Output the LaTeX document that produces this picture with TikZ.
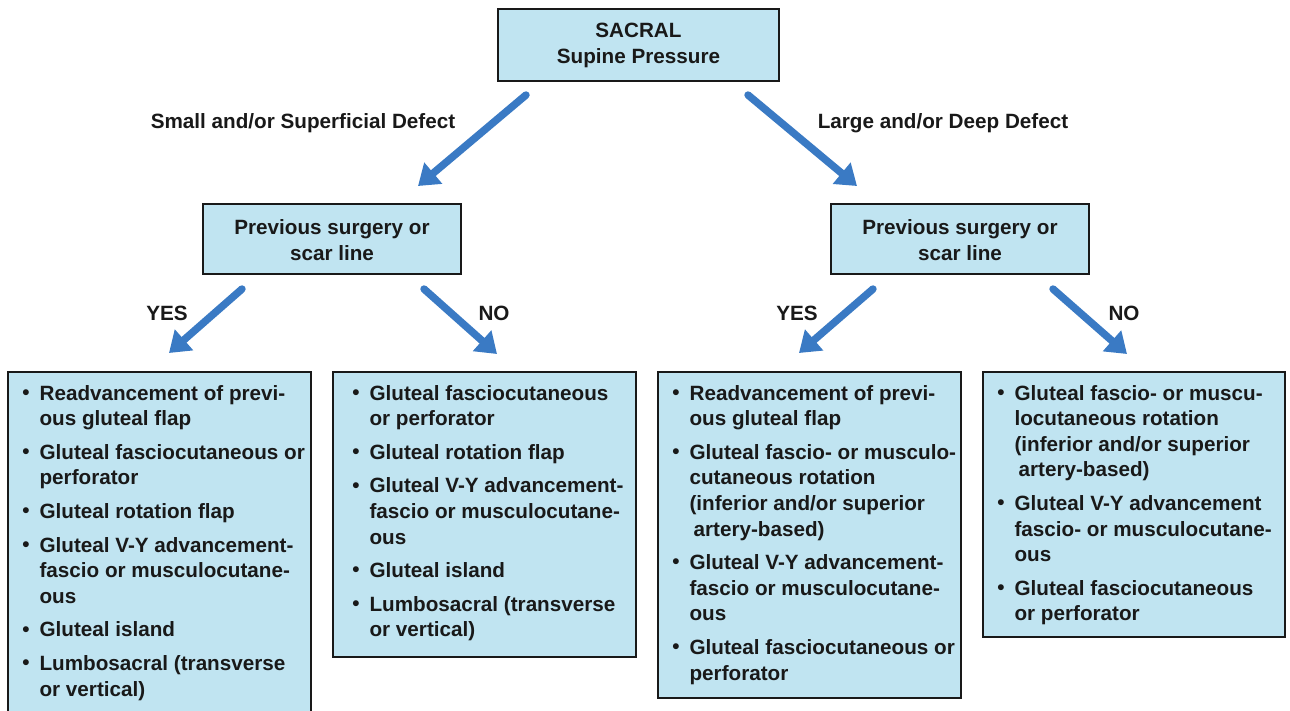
\documentclass[tikz,border=0pt]{standalone}
\usepackage{fontspec}
\setmainfont{Liberation Sans}
\usetikzlibrary{arrows.meta,fit,calc}
\definecolor{boxfill}{RGB}{192,228,241}
\definecolor{arrowblue}{RGB}{58,122,196}
\definecolor{inkc}{RGB}{25,25,25}
\newcommand\bitm[1]{\par\noindent\hangindent=13pt\hangafter=1\makebox[13pt][l]{\raisebox{0.5pt}{•}}#1\par}
\newcommand\blist[2]{\parbox[t]{#1}{\rightskip=0pt plus 1fil\parfillskip=0pt plus 1fil\setlength{\parskip}{6pt}\fontsize{15.5}{19.2}\selectfont #2}}
\begin{document}
\begin{tikzpicture}[x=0.75pt,y=-0.75pt,
  every node/.style={text=inkc,font=\bfseries\fontsize{15.5}{19.5}\selectfont},
  box/.style={draw=inkc,line width=1.1pt,fill=boxfill,inner sep=0pt,outer sep=0pt},
  bigarrow/.style={draw=arrowblue,line width=5.6pt,line cap=round,
    -{Triangle[length=15pt,width=20pt]}},
  lbl/.style={inner sep=0pt},
  ctext/.style={inner sep=0pt,align=center},
  txt/.style={anchor=base west,inner sep=0pt,align=left}]
\clip (0,0) rectangle (1290,711);
\fill[white] (0,0) rectangle (1290,711);
% top box
\node[box,fit={(498,9) (779,81)}] (top) {};
\node[ctext] (toptext) at ($(top.center)+(0,0.5)$) {SACRAL\\Supine Pressure};
% middle boxes
\node[box,fit={(203,204) (461,274)}] (ml) {};
\node[ctext] (mltext) at ($(ml.center)+(0,1)$) {Previous surgery or\\scar line};
\node[box,fit={(831,204) (1089,274)}] (mr) {};
\node[ctext] (mrtext) at ($(mr.center)+(0,1)$) {Previous surgery or\\scar line};
% bottom boxes
\node[box,fit={(8,372) (311,730)}] (b1) {};
\node[box,fit={(333,372) (636,657)}] (b2) {};
\node[box,fit={(658,372) (961,698)}] (b3) {};
\node[box,fit={(983,372) (1285,637)}] (b4) {};
% texts of bottom boxes
\node[txt] (t1) at ($(b1.north west)+(14,28)$) {\blist{280pt}{%
\bitm{Readvancement of previ-\\ous gluteal flap}
\bitm{Gluteal fasciocutaneous or\\perforator}
\bitm{Gluteal rotation flap}
\bitm{Gluteal V-Y advancement-\\fascio or musculocutane-\\ous}
\bitm{Gluteal island}
\bitm{Lumbosacral (transverse\\or vertical)}}};
\node[txt] (t2) at ($(b2.north west)+(19,28)$) {\blist{280pt}{%
\bitm{Gluteal fasciocutaneous\\or perforator}
\bitm{Gluteal rotation flap}
\bitm{Gluteal V-Y advancement-\\fascio or musculocutane-\\ous}
\bitm{Gluteal island}
\bitm{Lumbosacral (transverse\\or vertical)}}};
\node[txt] (t3) at ($(b3.north west)+(14,28)$) {\blist{280pt}{%
\bitm{Readvancement of previ-\\ous gluteal flap}
\bitm{Gluteal fascio- or musculo-\\cutaneous rotation\\(inferior and/or superior\\\hspace*{3pt}artery-based)}
\bitm{Gluteal V-Y advancement-\\fascio or musculocutane-\\ous}
\bitm{Gluteal fasciocutaneous or\\perforator}}};
\node[txt] (t4) at ($(b4.north west)+(14,28)$) {\blist{280pt}{%
\bitm{Gluteal fascio- or muscu-\\locutaneous rotation\\(inferior and/or superior\\\hspace*{3pt}artery-based)}
\bitm{Gluteal V-Y advancement\\fascio- or musculocutane-\\ous}
\bitm{Gluteal fasciocutaneous\\or perforator}}};
% arrow coordinates
\coordinate (a1s) at ($(top.south west)+(28,14)$);
\coordinate (a1e) at ($(ml.north east)+(-43,-18)$);
\coordinate (a2s) at ($(top.south east)+(-31,14)$);
\coordinate (a2e) at ($(mr.north west)+(26,-18)$);
\coordinate (a3s) at ($(ml.south west)+(39,15)$);
\coordinate (a3e) at ($(b1.north west)+(161,-19)$);
\coordinate (a4s) at ($(ml.south east)+(-37,15)$);
\coordinate (a4e) at ($(b2.north west)+(164,-18)$);
\coordinate (a5s) at ($(mr.south west)+(42,15)$);
\coordinate (a5e) at ($(b3.north west)+(141,-19)$);
\coordinate (a6s) at ($(mr.south east)+(-36,15)$);
\coordinate (a6e) at ($(b4.north west)+(144,-18)$);
\draw[bigarrow] (a1s) -- (a1e);
\draw[bigarrow] (a2s) -- (a2e);
\draw[bigarrow] (a3s) -- (a3e);
\draw[bigarrow] (a4s) -- (a4e);
\draw[bigarrow] (a5s) -- (a5e);
\draw[bigarrow] (a6s) -- (a6e);
% labels
\node[lbl] (l1) at (303,123) {Small and/or Superficial Defect};
\node[lbl] (l2) at (943,123) {Large and/or Deep Defect};
\node[lbl] (l3) at (167,313) {YES};
\node[lbl] (l4) at (494,313) {NO};
\node[lbl] (l5) at (797,313) {YES};
\node[lbl] (l6) at (1124,313) {NO};
\end{tikzpicture}
\end{document}
